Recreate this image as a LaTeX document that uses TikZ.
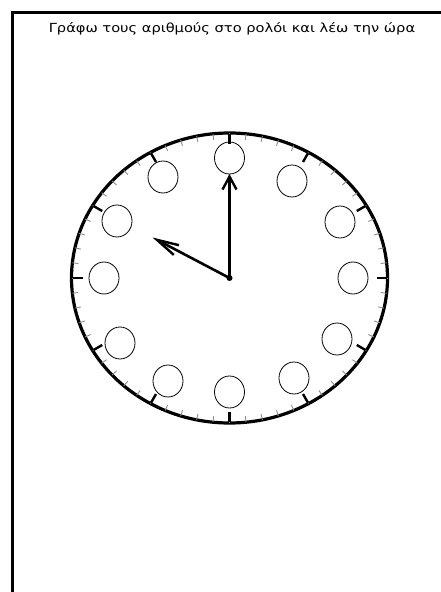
\documentclass[tikz,border=0pt]{standalone}
\usepackage{graphicx}
\usepackage{fontspec}
\setmainfont{DejaVu Sans}
\usetikzlibrary{shapes.geometric,arrows.meta}
\tikzset{
  frameline/.style={line width=3pt},
  dial/.style={line width=3.2pt},
  hourtick/.style={line width=2.4pt},
  minutetick/.style={line width=0.9pt, black!45},
  numslot/.style={ellipse, draw, line width=0.8pt, minimum width=30pt, minimum height=32pt, inner sep=0pt},
  hand/.style={line width=2.6pt},
  title/.style={font=\fontsize{12.5pt}{14pt}\selectfont, anchor=base, inner sep=0pt},
}
\begin{document}
\begin{tikzpicture}[x=1pt,y=-1pt]
\useasboundingbox (0,0) rectangle (441,592);
% frame
\draw[frameline] (441,12) -- (12,12) -- (12,592);
\node[title] (ttl) at (232,32) {\scalebox{1.17}[1]{Γράφω τους αριθμούς στο ρολόι και λέω την ώρα}};
% dial
\coordinate (c) at (229.5,278);
\draw[dial] (c) ellipse [x radius=158pt, y radius=145pt];
\foreach \t in {0,6,...,354}{
  \draw[minutetick] ({229.5+158*cos(\t)},{278-145*sin(\t)}) -- ({229.5+152*cos(\t)},{278-139*sin(\t)});
}
\foreach \t in {0,30,...,330}{
  \draw[hourtick] ({229.5+157*cos(\t)},{278-144*sin(\t)}) -- ({229.5+147*cos(\t)},{278-134*sin(\t)});
}
% number slots
\node[numslot] (n12) at (229.5,158) {};
\node[numslot] (n1) at (292,181) {};
\node[numslot] (n2) at (340,222) {};
\node[numslot] (n3) at (353,278) {};
\node[numslot] (n4) at (337,339) {};
\node[numslot] (n5) at (294,378) {};
\node[numslot] (n6) at (229.5,392) {};
\node[numslot] (n7) at (168,381) {};
\node[numslot] (n8) at (120,343) {};
\node[numslot] (n9) at (104,278) {};
\node[numslot] (n10) at (117,221) {};
\node[numslot] (n11) at (163,177) {};
% hands
\coordinate (mtip) at (229.5,174);
\coordinate (htip) at (152.5,237.5);
\draw[hand, -{Straight Barb[length=13pt,width=14pt,line width=2.4pt]}] (c) -- (mtip);
\draw[hand, -{Straight Barb[length=22pt,width=11pt,line width=2.4pt]}] (c) -- (htip);
\fill (c) circle (3pt);
\end{tikzpicture}
\end{document}
